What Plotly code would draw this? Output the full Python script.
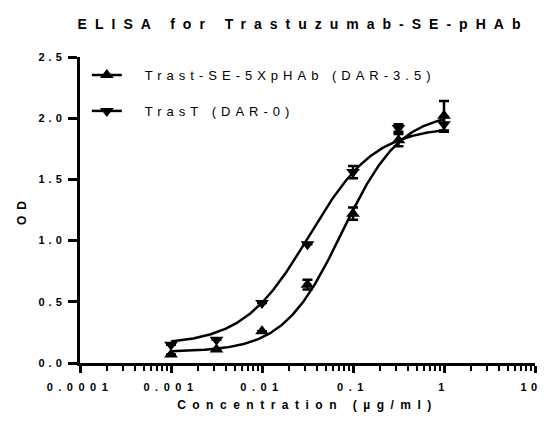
import numpy as np
import plotly.graph_objects as go

# ---- data ----
conc = [0.001, 0.00316, 0.01, 0.0316, 0.1, 0.316, 1.0]

se_name = "Trast-SE-5XpHAb (DAR-3.5)"
se_od = [0.07, 0.11, 0.26, 0.64, 1.22, 1.82, 2.02]
se_err = [0.0, 0.0, 0.0, 0.04, 0.05, 0.05, 0.12]

t_name = "TrasT (DAR-0)"
t_od = [0.15, 0.19, 0.49, 0.97, 1.56, 1.92, 1.95]
t_err = [0.0, 0.0, 0.0, 0.0, 0.05, 0.03, 0.06]

# 4-parameter logistic fit parameters (bottom, top, EC50, hill)
se_fit = [0.09, 2.05, 0.076, 1.35]
t_fit = [0.15, 1.93, 0.033, 1.2]

x_ticks = [0.0001, 0.001, 0.01, 0.1, 1, 10]
x_ticklabels = ["0.0001", "0.001", "0.01", "0.1", "1", "10"]
x_minor_ticks = [m * d for d in [0.0001, 0.001, 0.01, 0.1, 1] for m in range(2, 10)]
y_ticks = [0.0, 0.5, 1.0, 1.5, 2.0, 2.5]
y_ticklabels = ["0.0", "0.5", "1.0", "1.5", "2.0", "2.5"]

title = "ELISA for Trastuzumab-SE-pHAb"
x_title = "Concentration (\u00b5g/ml)"
y_title = "OD"


def fourpl(x, p):
    b, t, ec, h = p
    return b + (t - b) / (1 + (ec / x) ** h)


xc = np.logspace(np.log10(conc[0]), np.log10(conc[-1]), 200)

FONT = "Liberation Sans, Arial, sans-serif"
fig = go.Figure()

for name, od, err, fit, sym, grp in [
    (se_name, se_od, se_err, se_fit, "triangle-up", "a"),
    (t_name, t_od, t_err, t_fit, "triangle-down", "b"),
]:
    fig.add_trace(go.Scatter(
        x=xc, y=fourpl(xc, fit), mode="lines",
        line=dict(color="black", width=2.5), showlegend=False, hoverinfo="skip"))
    fig.add_trace(go.Scatter(
        x=conc, y=od, mode="markers",
        marker=dict(symbol=sym, size=12, color="black"),
        error_y=dict(type="data", array=err, color="black", thickness=2.5, width=5),
        showlegend=False))
    fig.add_trace(go.Scatter(
        x=[None], y=[None], mode="lines+markers", name=name, legendgroup=grp,
        line=dict(color="black", width=2.5),
        marker=dict(symbol=sym, size=12, color="black")))

fig.update_layout(
    width=546, height=436,
    margin=dict(l=80, r=11, t=57, b=73),
    plot_bgcolor="white", paper_bgcolor="white",
    title=dict(text=title, x=0.555, xanchor="center", y=0.945, yanchor="middle",
               font=dict(family=FONT, size=14, color="black", weight="bold")),
    legend=dict(x=0.015, y=0.99, xanchor="left", yanchor="top",
                bgcolor="rgba(0,0,0,0)", tracegroupgap=16,
                font=dict(family=FONT, size=13, color="black")),
    showlegend=True,
)
fig.layout.xaxis.update(
    type="log", range=[-4, 1],
    tickvals=x_ticks, ticktext=x_ticklabels,
    ticks="outside", ticklen=7, tickwidth=2.5, tickcolor="black",
    minor=dict(tickmode="array", tickvals=x_minor_ticks, ticks="outside",
               ticklen=5, tickwidth=2, tickcolor="black", showgrid=False),
    showline=True, linecolor="black", linewidth=3,
    showgrid=False, zeroline=False, automargin=False,
    ticklabelstandoff=5,
    tickfont=dict(family=FONT, size=11, color="black", weight="bold"),
    title=dict(text=x_title, standoff=9,
               font=dict(family=FONT, size=12, color="black", weight="bold")),
)
fig.layout.yaxis.update(
    range=[0, 2.5],
    tickvals=y_ticks, ticktext=y_ticklabels,
    ticks="outside", ticklen=9, tickwidth=2.5, tickcolor="black",
    showline=True, linecolor="black", linewidth=3,
    showgrid=False, zeroline=False, automargin=False,
    tickfont=dict(family=FONT, size=11, color="black", weight="bold"),
    title=dict(text=y_title, standoff=22,
               font=dict(family=FONT, size=12, color="black", weight="bold")),
)

post = """
document.body.style.margin='0';
function sp(sel, v){document.querySelectorAll(sel).forEach(function(e){e.style.letterSpacing=v;});}
sp('.gtitle','8px');
sp('.xtick text','5.5px');
sp('.ytick text','4px');
sp('.g-xtitle text','6.5px');
sp('.g-ytitle text','6px');
sp('.legendtext','5px');
var xt = document.querySelectorAll('.xtick text');
if (xt.length) { var last = xt[xt.length-1]; last.style.letterSpacing='4.5px'; last.setAttribute('dx','-4'); }
document.querySelectorAll('.legendtext').forEach(function(e){e.setAttribute('x', 58);});
document.querySelectorAll('.legend [clip-path]').forEach(function(e){e.removeAttribute('clip-path');});
document.querySelectorAll('.legend').forEach(function(e){e.style.overflow='visible';});
"""

fig.write_html("out.html", post_script=post, config={"displayModeBar": False})
